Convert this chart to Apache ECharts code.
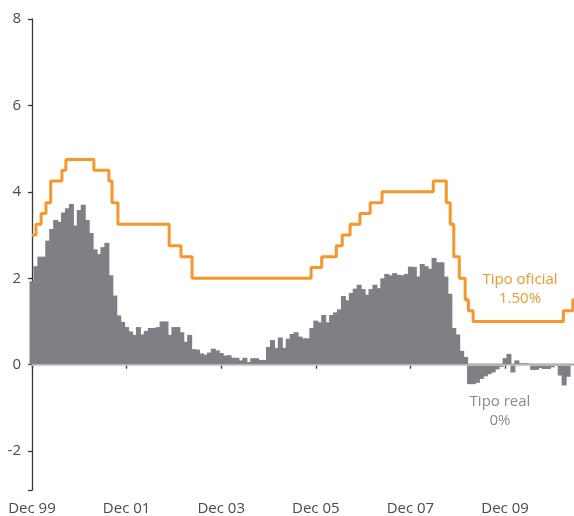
<!DOCTYPE html>
<html>
<head>
<meta charset="utf-8">
<script src="https://cdn.jsdelivr.net/npm/echarts@6/dist/echarts.min.js"></script>
<style>
  html, body { margin: 0; padding: 0; background: #fff; }
  #chart { width: 574px; height: 516px; }
</style>
</head>
<body>
<div id="chart"></div>
<script>
// months counted from the "Dec 99" tick
const tickMonths = [0, 24, 48, 72, 96, 120]
const tickLabels = ['Dec 99', 'Dec 01', 'Dec 03', 'Dec 05', 'Dec 07', 'Dec 09']
const yTicks = [-2, 0, 2, 4, 6, 8]

// tipo real, one bar per month
const realRate = [
  1.93, 2.28, 2.50, 2.50, 2.87, 3.14, 3.35, 3.31, 3.52, 3.62, 3.72, 3.22,
  3.58, 3.70, 3.35, 3.05, 2.67, 2.56, 2.72, 2.82, 2.07, 1.60, 1.14, 0.99,
  0.87, 0.77, 0.69, 0.87, 0.70, 0.78, 0.85, 0.85, 0.87, 1.00, 1.00, 0.69,
  0.87, 0.87, 0.75, 0.53, 0.69, 0.36, 0.35, 0.26, 0.23, 0.28, 0.37, 0.33,
  0.27, 0.21, 0.22, 0.16, 0.16, 0.10, 0.16, 0.06, 0.15, 0.15, 0.11, 0.11,
  0.41, 0.57, 0.39, 0.63, 0.39, 0.60, 0.71, 0.75, 0.65, 0.61, 0.61, 0.85,
  1.02, 0.98, 1.15, 0.98, 1.15, 1.21, 1.28, 1.59, 1.49, 1.66, 1.76, 1.85,
  1.75, 1.62, 1.75, 1.85, 1.77, 2.00, 2.10, 2.07, 2.12, 2.08, 2.07, 2.10,
  2.27, 2.26, 2.04, 2.33, 2.28, 2.22, 2.47, 2.37, 2.37, 2.04, 1.64, 0.85,
  0.70, 0.32, 0.18, -0.45, -0.45, -0.42, -0.33, -0.27, -0.22, -0.18, -0.11, -0.05,
  0.15, 0.25, -0.18, 0.10, 0.03, 0.03, 0.02, -0.12, -0.12, -0.08, -0.10, -0.10,
  -0.06, -0.03, -0.25, -0.48, -0.28, 0
]

// tipo oficial: month of each change and the new level
const rateMonth = [0, 1.0, 2.3, 3.55, 4.75, 7.6, 8.6, 15.7, 19.5, 20.3, 21.8,
  34.8, 37.8, 40.6, 70.8, 73.5, 77.2, 78.7, 80.7, 83.2, 85.8, 88.8,
  101.8, 105.1, 106.1, 107.0, 108.4, 109.9, 110.7, 111.9, 134.8, 137.2, 137.5]
const rateValue = [3.0, 3.25, 3.5, 3.75, 4.25, 4.5, 4.75, 4.5, 4.25, 3.75, 3.25,
  2.75, 2.5, 2.0, 2.25, 2.5, 2.75, 3.0, 3.25, 3.5, 3.75, 4.0,
  4.25, 3.75, 3.25, 2.5, 2.0, 1.5, 1.25, 1.0, 1.25, 1.5, 1.5]

const fontFamily = 'Open Sans'
const axisColor = '#3a3a3a'
const labelColor = '#4a4a4a'
const orange = '#f7962a'

const chart = echarts.init(document.getElementById('chart'))

chart.setOption({
  animation: false,
  grid: { left: 32, right: 0, top: 19, bottom: 24 },
  xAxis: {
    type: 'value',
    min: 0,
    max: 137.5,
    splitLine: { show: false },
    axisLine: { lineStyle: { color: axisColor, width: 1.3 } },
    axisTick: {
      length: 4,
      customValues: tickMonths,
      lineStyle: { color: axisColor, width: 1.3 }
    },
    axisLabel: {
      customValues: tickMonths,
      margin: 11,
      color: labelColor,
      fontSize: 15,
      fontFamily: fontFamily,
      formatter: v => tickLabels[tickMonths.indexOf(v)] || ''
    }
  },
  yAxis: {
    type: 'value',
    min: -2.9,
    max: 8,
    splitLine: { show: false },
    axisLine: { show: true, lineStyle: { color: axisColor, width: 1.3 } },
    axisTick: {
      show: true,
      length: 4,
      customValues: yTicks.concat([-2.9]),
      lineStyle: { color: axisColor, width: 1.3 }
    },
    axisLabel: {
      customValues: yTicks,
      margin: 11,
      color: labelColor,
      fontSize: 15,
      fontFamily: fontFamily
    }
  },
  series: [
    {
      type: 'bar',
      name: 'Tipo real',
      data: realRate.map((v, i) => [i, v]),
      barWidth: 5,
      clip: true,
      itemStyle: { color: '#807f85' },
      markLine: {
        silent: true,
        symbol: 'none',
        label: { show: false },
        lineStyle: { color: '#cfcfcf', width: 1.5, type: 'solid' },
        data: [{ yAxis: 0 }]
      }
    },
    {
      type: 'line',
      name: 'Tipo oficial',
      step: 'end',
      showSymbol: false,
      data: rateMonth.map((m, i) => [m, rateValue[i]]),
      lineStyle: { color: orange, width: 3 },
      z: 3
    }
  ],
  graphic: [
    {
      type: 'text',
      x: 520,
      y: 289,
      style: {
        text: 'Tipo oficial\n1.50%',
        fill: orange,
        fontSize: 15,
        fontFamily: fontFamily,
        lineHeight: 19,
        align: 'center',
        verticalAlign: 'middle'
      }
    },
    {
      type: 'text',
      x: 500,
      y: 411,
      style: {
        text: 'Tipo real\n0%',
        fill: '#8a8a8a',
        fontSize: 15,
        fontFamily: fontFamily,
        lineHeight: 19,
        align: 'center',
        verticalAlign: 'middle'
      }
    }
  ]
})
</script>
</body>
</html>
